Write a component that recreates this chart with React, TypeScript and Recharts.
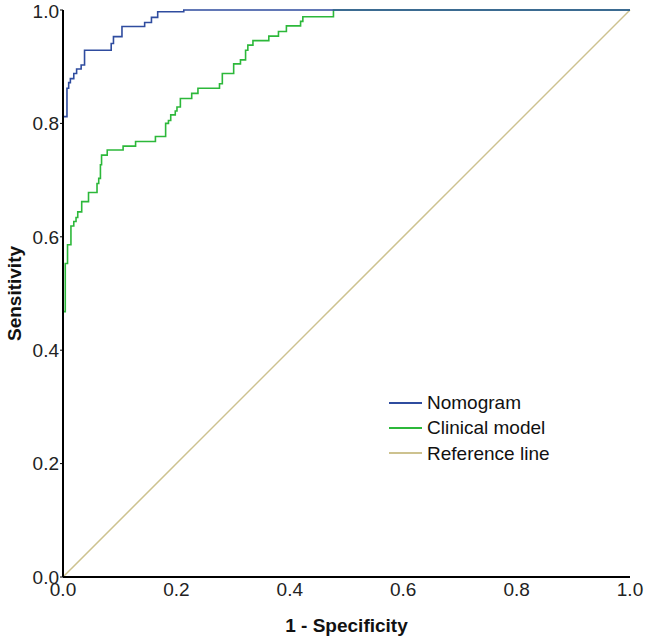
import { LineChart, Line, XAxis, YAxis, Legend } from "recharts";

// ROC corner points (top-left of each step), 1 - specificity vs sensitivity
const nomogramFpr = [0, 0, 0.007, 0.01, 0.013, 0.019, 0.024, 0.032, 0.038, 0.085, 0.089, 0.104, 0.144, 0.156, 0.167, 0.213, 1];
const nomogramTpr = [0, 0.812, 0.862, 0.872, 0.879, 0.888, 0.896, 0.903, 0.929, 0.941, 0.953, 0.971, 0.978, 0.987, 0.997, 1, 1];

const clinicalFpr = [
  0, 0, 0.004, 0.008, 0.014, 0.019, 0.023, 0.026, 0.033, 0.045, 0.06, 0.063, 0.066, 0.068, 0.078,
  0.106, 0.128, 0.163, 0.181, 0.186, 0.19, 0.198, 0.201, 0.207, 0.227, 0.238, 0.276, 0.281, 0.301,
  0.313, 0.322, 0.326, 0.335, 0.363, 0.38, 0.394, 0.419, 0.423, 0.477, 1,
];
const clinicalTpr = [
  0, 0.468, 0.553, 0.586, 0.619, 0.627, 0.634, 0.644, 0.662, 0.678, 0.694, 0.703, 0.727, 0.744, 0.753,
  0.76, 0.768, 0.777, 0.8, 0.805, 0.815, 0.822, 0.829, 0.844, 0.853, 0.862, 0.87, 0.888, 0.905,
  0.912, 0.929, 0.938, 0.946, 0.954, 0.962, 0.972, 0.98, 0.988, 1, 1,
];

const referenceFpr = [0, 1];
const referenceTpr = [0, 1];

const axisTicks = [0, 0.2, 0.4, 0.6, 0.8, 1];

const seriesNames = ["Nomogram", "Clinical model", "Reference line"];
const seriesColors = ["#2f4c9f", "#2cb83a", "#cdc28f"];

const zip = (xs: number[], ys: number[]) => xs.map((x, i) => ({ x, y: ys[i] }));

const nomogramData = zip(nomogramFpr, nomogramTpr);
const clinicalData = zip(clinicalFpr, clinicalTpr);
const referenceData = zip(referenceFpr, referenceTpr);

const FONT = "'Liberation Sans', Arial, sans-serif";

function SensitivityLabel(props: any) {
  const { viewBox } = props;
  const cx = viewBox.x + 6;
  const cy = viewBox.y + viewBox.height / 2;
  return (
    <text
      x={cx}
      y={cy}
      transform={`rotate(-90, ${cx}, ${cy})`}
      textAnchor="middle"
      dominantBaseline="central"
      fontFamily={FONT}
      fontSize={19}
      fontWeight="bold"
      fill="#111"
    >
      Sensitivity
    </text>
  );
}

function RocLegend() {
  return (
    <div style={{ fontFamily: FONT, fontSize: 19, color: "#111", lineHeight: "25.3px" }}>
      {seriesNames.map((name, i) => (
        <div key={name} style={{ display: "flex", alignItems: "center", height: 25.3 }}>
          <span style={{ display: "inline-block", width: 33, height: 2, background: seriesColors[i], marginRight: 5 }} />
          <span>{name}</span>
        </div>
      ))}
    </div>
  );
}

export default function App() {
  const tickStyle = { fontFamily: FONT, fontSize: 19, fill: "#222" };
  return (
    <div style={{ position: "absolute", left: 0, top: 0, background: "#fff" }}>
      <LineChart width={646} height={639} margin={{ top: 10, right: 16, bottom: 0, left: 8 }}>
        <XAxis
          dataKey="x"
          type="number"
          domain={[0, 1]}
          ticks={axisTicks}
          tickFormatter={(v: number) => v.toFixed(1)}
          tick={tickStyle}
          tickSize={0}
          tickMargin={6}
          height={62}
          axisLine={{ stroke: "#000", strokeWidth: 2 }}
          label={{
            value: "1 - Specificity",
            position: "insideBottom",
            offset: 7,
            style: { fontFamily: FONT, fontSize: 19, fontWeight: "bold", fill: "#111" },
          }}
        />
        <YAxis
          dataKey="y"
          type="number"
          domain={[0, 1]}
          ticks={axisTicks}
          tickFormatter={(v: number) => v.toFixed(1)}
          tick={tickStyle}
          tickSize={3}
          tickLine={{ stroke: "#000" }}
          tickMargin={1}
          width={55}
          axisLine={{ stroke: "#000", strokeWidth: 2 }}
          label={<SensitivityLabel />}
        />
        {/* top and right edges of the frame */}
        <XAxis
          xAxisId="top"
          orientation="top"
          type="number"
          domain={[0, 1]}
          height={0}
          tick={false}
          tickLine={false}
          axisLine={{ stroke: "#8a8a8a", strokeWidth: 1.5 }}
        />
        <YAxis
          yAxisId="right"
          orientation="right"
          type="number"
          domain={[0, 1]}
          width={0}
          tick={false}
          tickLine={false}
          axisLine={{ stroke: "#222", strokeWidth: 1.5 }}
        />
        <Line
          data={referenceData}
          dataKey="y"
          type="linear"
          stroke={seriesColors[2]}
          strokeWidth={1.5}
          dot={false}
          activeDot={false}
          isAnimationActive={false}
        />
        <Line
          data={clinicalData}
          dataKey="y"
          type="stepAfter"
          stroke={seriesColors[1]}
          strokeWidth={1.6}
          dot={false}
          activeDot={false}
          isAnimationActive={false}
        />
        <Line
          data={nomogramData}
          dataKey="y"
          type="stepAfter"
          stroke={seriesColors[0]}
          strokeWidth={1.6}
          dot={false}
          activeDot={false}
          isAnimationActive={false}
        />
        <Legend
          layout="vertical"
          align="center"
          verticalAlign="middle"
          content={<RocLegend />}
          wrapperStyle={{ left: 389, top: 390, width: 220 }}
        />
      </LineChart>
    </div>
  );
}
